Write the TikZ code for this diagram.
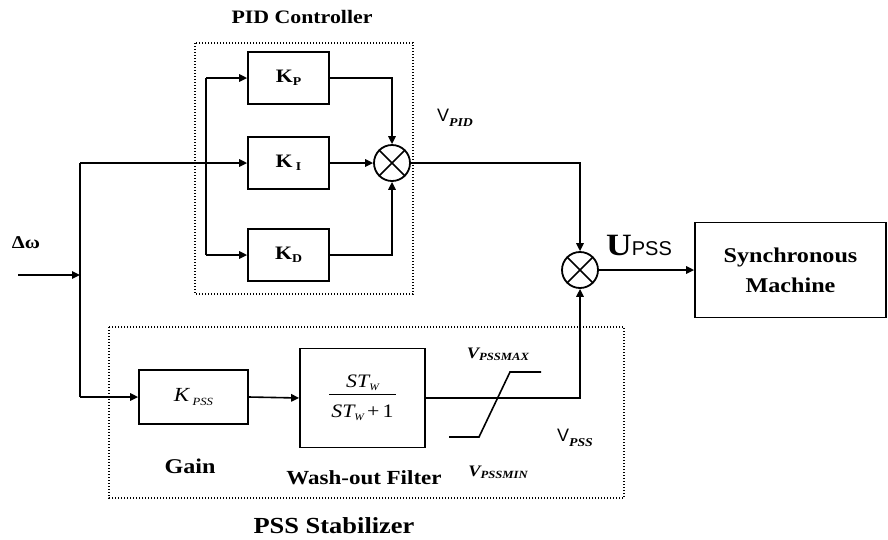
\documentclass[tikz,border=0pt]{standalone}
\usepackage{fontspec}
\setmainfont{Liberation Serif}[FakeStretch=1.15]
\newfontfamily\sansf{Liberation Sans}
\usetikzlibrary{arrows.meta}
\begin{document}
\begin{tikzpicture}[x=1pt,y=-1pt,
  blk/.style={draw,line width=1.8pt,inner sep=0pt},
  sumc/.style={draw,circle,line width=1.8pt,minimum size=36pt,inner sep=0pt},
  dotbox/.style={draw,line width=1.6pt,dash pattern=on 1.4pt off 1.6pt},
  ln/.style={line width=1.6pt},
  arr/.style={line width=1.6pt,-{Triangle[length=8pt,width=7.5pt]}},
  lab/.style={inner sep=0pt,font=\bfseries}]
\useasboundingbox (0,0) rectangle (888,539);

% dotted group boxes
\draw[dotbox] (195,43) rectangle (413,294);
\draw[dotbox] (109,327) rectangle (624,498);

% blocks
\node[blk,minimum width=81pt,minimum height=52pt] (kp) at (288.5,78) {\fontsize{19}{20}\selectfont\bfseries K\raisebox{-3pt}{\fontsize{12}{13}\selectfont P}};
\node[blk,minimum width=81pt,minimum height=52pt] (ki) at (288.5,163) {\fontsize{19}{20}\selectfont\bfseries K\,\raisebox{-3pt}{\fontsize{12}{13}\selectfont I}};
\node[blk,minimum width=81pt,minimum height=52pt] (kd) at (288.5,255) {\fontsize{19}{20}\selectfont\bfseries K\raisebox{-3pt}{\fontsize{12}{13}\selectfont D}};
\node[sumc] (s1) at (392,163) {};
\node[sumc] (s2) at (580,270) {};
\draw[ln] (s1.north west) -- (s1.south east) (s1.north east) -- (s1.south west);
\draw[ln] (s2.north west) -- (s2.south east) (s2.north east) -- (s2.south west);
\node[blk,minimum width=109pt,minimum height=54pt] (kpss) at (193.5,397) {\fontsize{20}{22}\selectfont\itshape K\,\raisebox{-4pt}{\fontsize{11}{12}\selectfont PSS}};
\node[blk,minimum width=125pt,minimum height=99pt] (wf) at (362.5,398) {\fontsize{19}{22}\selectfont
  \setlength{\arrayrulewidth}{1pt}%
  \begin{tabular}{@{\hspace{2pt}}c@{\hspace{2pt}}}
  \itshape ST\raisebox{-3pt}{\fontsize{10}{11}\selectfont W}\rule[-7pt]{0pt}{1pt}\\ \hline
  \rule{0pt}{22pt}\itshape ST\raisebox{-3pt}{\fontsize{10}{11}\selectfont W}\,\upshape +\,1
  \end{tabular}};
\node[blk,minimum width=191pt,minimum height=95pt,align=center,font=\fontsize{21}{30}\selectfont\bfseries] (sm) at (790.5,270) {Synchronous\\Machine};

% connectors
\coordinate (in) at (18,275);
\coordinate (jx) at (80,275);
\draw[arr] (in) -- (jx);
\coordinate (jt) at (80,163);
\coordinate (jb) at (80,397);
\draw[ln] (jt) -- (jb);
\draw[arr] (jt) -- (ki.west);
\coordinate (sx) at (206,163);
\draw[ln] (sx |- kp.west) -- (sx |- kd.west);
\draw[arr] (sx |- kp.west) -- (kp.west);
\draw[arr] (sx |- kd.west) -- (kd.west);
\draw[arr] (kp.east) -| (s1.north);
\draw[arr] (ki.east) -- (s1.west);
\draw[arr] (kd.east) -| (s1.south);
\draw[arr] (s1.east) -| (s2.north);
\draw[arr] (jb) -- (kpss.west);
\draw[arr] (kpss.east) -- (wf.west);
\draw[arr] (wf.east) -| (s2.south);
\draw[arr] (s2.east) -- (sm.west);

% saturation symbol
\draw[ln] (449,437) -- (479,437) -- (510,372) -- (541,372);

% labels
\node[lab] (tpid) at (302,17) {\fontsize{19}{20}\selectfont PID Controller};
\node[lab] (tdw) at (26,243) {\fontsize{18}{20}\selectfont Δω};
\node[lab] (tvpid) at (455,118) {{\sansf\mdseries\fontsize{18}{20}\selectfont V}\raisebox{-5pt}{\fontsize{12}{13}\selectfont\itshape PID}};
\node[lab,anchor=base] (tupss) at (639,255) {{\fontsize{31}{32}\selectfont U}{\sansf\mdseries\fontsize{20}{22}\selectfont PSS}};
\node[lab] (tmax) at (498,354) {\fontsize{16}{18}\selectfont\itshape V\raisebox{-2pt}{\fontsize{11}{12}\selectfont PSSMAX}};
\node[lab] (tmin) at (498,472) {\fontsize{16}{18}\selectfont\itshape V\raisebox{-2pt}{\fontsize{11}{12}\selectfont PSSMIN}};
\node[lab] (tvpss) at (575,438) {{\sansf\mdseries\fontsize{18}{20}\selectfont V}\raisebox{-5pt}{\fontsize{12}{13}\selectfont\itshape PSS}};
\node[lab] (tgain) at (190,466) {\fontsize{21}{22}\selectfont Gain};
\node[lab] (twf) at (364,478) {\fontsize{20}{22}\selectfont Wash-out Filter};
\node[lab] (tpss) at (334,526) {\fontsize{23}{24}\selectfont PSS Stabilizer};
\end{tikzpicture}
\end{document}
